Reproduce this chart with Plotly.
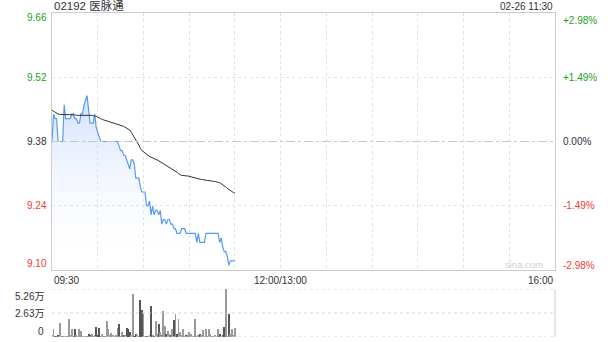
import plotly.graph_objects as go

# ---------------- data ----------------
stock_title = "02192 医脉通"
stamp = "02-26 11:30"
prev_close = 9.38
price_ticks = [9.66, 9.52, 9.38, 9.24, 9.10]
pct_labels = ["+2.98%", "+1.49%", "0.00%", "-1.49%", "-2.98%"]
time_labels = ["09:30", "12:00/13:00", "16:00"]
time_label_pos = [0, 150, 330]   # minutes since open (lunch break removed)
vol_ticks = [5.26, 2.63, 0]
vol_labels = ["5.26万", "2.63万", "0"]

# price per minute, 09:30 .. 11:30
price = [
    9.38, 9.44, 9.43, 9.43, 9.38, 9.38, 9.38, 9.38, 9.46, 9.43,
    9.43, 9.43, 9.43, 9.44, 9.44, 9.43, 9.43, 9.42, 9.42, 9.44,
    9.44, 9.46, 9.47, 9.48, 9.45, 9.42, 9.42, 9.42, 9.44, 9.41,
    9.40, 9.39, 9.38, 9.38, 9.38, 9.38, 9.38, 9.38, 9.38, 9.38,
    9.38, 9.38, 9.38, 9.38, 9.37, 9.36, 9.36, 9.35, 9.35, 9.34,
    9.33, 9.32, 9.34, 9.34, 9.33, 9.30, 9.30, 9.30, 9.28, 9.27,
    9.27, 9.27, 9.24, 9.24, 9.25, 9.22, 9.24, 9.22, 9.23, 9.23,
    9.22, 9.23, 9.20, 9.21, 9.21, 9.20, 9.21, 9.21, 9.20, 9.20,
    9.19, 9.19, 9.18, 9.18, 9.18, 9.19, 9.19, 9.19, 9.18, 9.18,
    9.18, 9.18, 9.18, 9.18, 9.18, 9.16, 9.18, 9.16, 9.16, 9.16,
    9.16, 9.18, 9.18, 9.18, 9.18, 9.18, 9.18, 9.18, 9.18, 9.18,
    9.16, 9.17, 9.15, 9.14, 9.14, 9.13, 9.11, 9.12, 9.12, 9.12,
    9.12,
]

# average price per minute
avg_price = [
    9.448, 9.446, 9.443, 9.442, 9.440, 9.439, 9.439, 9.438, 9.439, 9.438,
    9.438, 9.438, 9.438, 9.438, 9.438, 9.438, 9.437, 9.437, 9.437, 9.437,
    9.437, 9.437, 9.438, 9.438, 9.437, 9.437, 9.437, 9.436, 9.436, 9.435,
    9.433, 9.432, 9.430, 9.428, 9.427, 9.425, 9.424, 9.423, 9.422, 9.421,
    9.420, 9.419, 9.418, 9.417, 9.416, 9.415, 9.414, 9.413, 9.411, 9.409,
    9.407, 9.405, 9.400, 9.395, 9.390, 9.384, 9.378, 9.372, 9.365, 9.360,
    9.358, 9.355, 9.352, 9.349, 9.347, 9.346, 9.344, 9.343, 9.341, 9.340,
    9.338, 9.336, 9.333, 9.331, 9.329, 9.327, 9.325, 9.323, 9.321, 9.320,
    9.318, 9.316, 9.313, 9.310, 9.307, 9.306, 9.306, 9.305, 9.305, 9.305,
    9.304, 9.304, 9.303, 9.302, 9.301, 9.300, 9.299, 9.298, 9.297, 9.297,
    9.296, 9.296, 9.295, 9.295, 9.294, 9.294, 9.293, 9.293, 9.292, 9.292,
    9.290, 9.288, 9.286, 9.284, 9.281, 9.278, 9.275, 9.273, 9.271, 9.269,
    9.268,
]

# volume per minute, in 万 shares
volume = [
    0.15, 0.84, 0.10, 0.05, 0.20, 1.57, 0.05, 0.10, 0.08, 0.05,
    0.10, 1.93, 0.20, 0.90, 0.10, 0.90, 0.15, 0.10, 0.90, 0.70,
    0.10, 0.05, 0.10, 0.10, 0.30, 0.25, 0.30, 0.10, 0.15, 1.10,
    0.20, 1.00, 0.10, 0.30, 0.05, 0.10, 1.75, 0.84, 0.15, 0.40,
    0.20, 0.10, 0.15, 1.00, 1.40, 0.10, 0.50, 0.20, 0.15, 1.00,
    0.84, 0.50, 0.20, 4.67, 0.10, 0.30, 0.25, 0.10, 4.05, 2.96,
    2.66, 0.10, 0.05, 0.10, 0.20, 3.40, 0.15, 0.10, 1.75, 0.30,
    1.40, 0.50, 0.20, 2.85, 1.20, 0.30, 0.66, 0.30, 0.15, 0.84,
    1.86, 2.48, 0.30, 1.93, 0.50, 0.20, 0.84, 0.10, 0.20, 0.15,
    0.55, 0.30, 0.10, 0.10, 1.93, 0.10, 0.20, 0.30, 0.20, 0.73,
    0.10, 0.84, 0.10, 0.91, 0.30, 0.10, 0.10, 0.20, 0.10, 0.91,
    0.30, 0.10, 0.20, 1.13, 5.22, 0.10, 2.48, 0.30, 0.90, 0.20,
    1.00,
]

minutes = list(range(len(price)))

# ---------------- styling ----------------
FONT = "Liberation Sans, Arial, Noto Sans CJK SC, sans-serif"
GREEN = "#1ea01e"
RED = "#f03c3c"
DARK = "#333333"
label_colors = [GREEN, GREEN, DARK, RED, RED]

bar_colors = []
for i, p in enumerate(price):
    prev = price[i - 1] if i > 0 else prev_close
    bar_colors.append("#555555" if p < prev else "#9a9a9a")

fig = go.Figure()

fig.add_trace(go.Scatter(
    x=minutes, y=price, mode="lines",
    line=dict(color="#5a9bf2", width=1.2),
    fill="tozeroy",
    fillgradient=dict(
        type="vertical", start=price_ticks[-1], stop=max(price),
        colorscale=[[0, "rgba(255,255,255,0)"], [1, "rgba(170,200,245,0.55)"]],
    ),
    xaxis="x", yaxis="y", hoverinfo="skip", showlegend=False,
))
fig.add_trace(go.Scatter(
    x=minutes, y=avg_price, mode="lines",
    line=dict(color="#333333", width=1),
    xaxis="x", yaxis="y", hoverinfo="skip", showlegend=False,
))
fig.add_trace(go.Bar(
    x=minutes, y=volume, width=0.6,
    marker=dict(color=bar_colors, line=dict(width=0)),
    xaxis="x2", yaxis="y2", hoverinfo="skip", showlegend=False,
))

main_dom = [67 / 324, 1]
vol_dom = [0, 48 / 324]

fig.update_layout(
    width=608, height=342,
    margin=dict(l=52, r=53, t=13, b=5),
    paper_bgcolor="white", plot_bgcolor="white",
    font=dict(family=FONT, size=10, color=DARK),
    bargap=0,
    xaxis=dict(domain=[0, 1], range=[0, 330], tick0=0, dtick=30,
               showgrid=True, gridcolor="#e2e2e2", griddash="dot", gridwidth=1,
               showticklabels=False, ticks="", zeroline=False,
               showline=True, mirror=True, linecolor="#cccccc", linewidth=1),
    yaxis=dict(domain=main_dom, range=[price_ticks[-1], price_ticks[0]],
               tickvals=[price_ticks[1], price_ticks[3]],
               showgrid=True, gridcolor="#e2e2e2", griddash="dot", gridwidth=1,
               showticklabels=False, ticks="", zeroline=False,
               showline=True, mirror=True, linecolor="#cccccc", linewidth=1),
    xaxis2=dict(domain=[0, 1], range=[0, 330], anchor="y2",
                showgrid=False, showticklabels=False, ticks="", zeroline=False,
                showline=False),
    yaxis2=dict(domain=vol_dom, range=[0, vol_ticks[0]], anchor="x2",
                showgrid=False, showticklabels=False, ticks="", zeroline=False,
                showline=False),
)

shapes = []
# previous close reference line
shapes.append(dict(type="line", xref="x domain", yref="y", x0=0, x1=1,
                   y0=prev_close, y1=prev_close,
                   line=dict(color="#c8c8c8", width=1, dash="dashdot")))
# volume panel grid + right border
for v in vol_ticks:
    shapes.append(dict(type="line", xref="x2 domain", yref="y2", x0=0, x1=1,
                       y0=v, y1=v, line=dict(color="#d6d6d6", width=1, dash="dot")))
shapes.append(dict(type="line", xref="x2 domain", yref="y2 domain", x0=1, x1=1,
                   y0=0, y1=1, line=dict(color="#cccccc", width=1)))
fig.update_layout(shapes=shapes)

ann = []
ann.append(dict(text=stock_title, xref="paper", yref="paper", x=0, y=1,
                xanchor="left", yanchor="bottom", showarrow=False,
                font=dict(size=11.5, color=DARK), yshift=-1))
ann.append(dict(text=stamp, xref="paper", yref="paper", x=1, y=1,
                xanchor="right", yanchor="bottom", showarrow=False,
                font=dict(size=10, color=DARK), yshift=-1))

left_shift = [-4, 0, 0, 0, 7]
right_shift = [-7, 0, 0, 0, 5]
for p, lab, c, ls, rs in zip(price_ticks, pct_labels, label_colors, left_shift, right_shift):
    ann.append(dict(text=f"{p:.2f}", xref="paper", yref="y", x=0, y=p,
                    xanchor="right", yanchor="middle", xshift=-3, yshift=ls,
                    showarrow=False, font=dict(size=10, color=c)))
    ann.append(dict(text=lab, xref="paper", yref="y", x=1, y=p,
                    xanchor="left", yanchor="middle", xshift=6, yshift=rs,
                    showarrow=False, font=dict(size=10, color=c)))

anchors = ["left", "center", "right"]
for t, pos, a in zip(time_labels, time_label_pos, anchors):
    ann.append(dict(text=t, xref="x", yref="paper", x=pos, y=main_dom[0],
                    xanchor=a, yanchor="top", yshift=-3, showarrow=False,
                    font=dict(size=10, color=DARK)))

vol_shift = [-7, 0, 6]
for v, lab, s in zip(vol_ticks, vol_labels, vol_shift):
    ann.append(dict(text=lab, xref="paper", yref="y2", x=0, y=v,
                    xanchor="right", yanchor="middle", xshift=-6, yshift=s,
                    showarrow=False, font=dict(size=10, color=DARK)))

ann.append(dict(text="sina.com", xref="paper", yref="y", x=1, y=price_ticks[-1],
                xanchor="right", yanchor="middle", xshift=-10, yshift=6,
                showarrow=False, font=dict(size=9.5, color="#cfcfcf")))

fig.update_layout(annotations=ann)

fig.write_html("out.html")
